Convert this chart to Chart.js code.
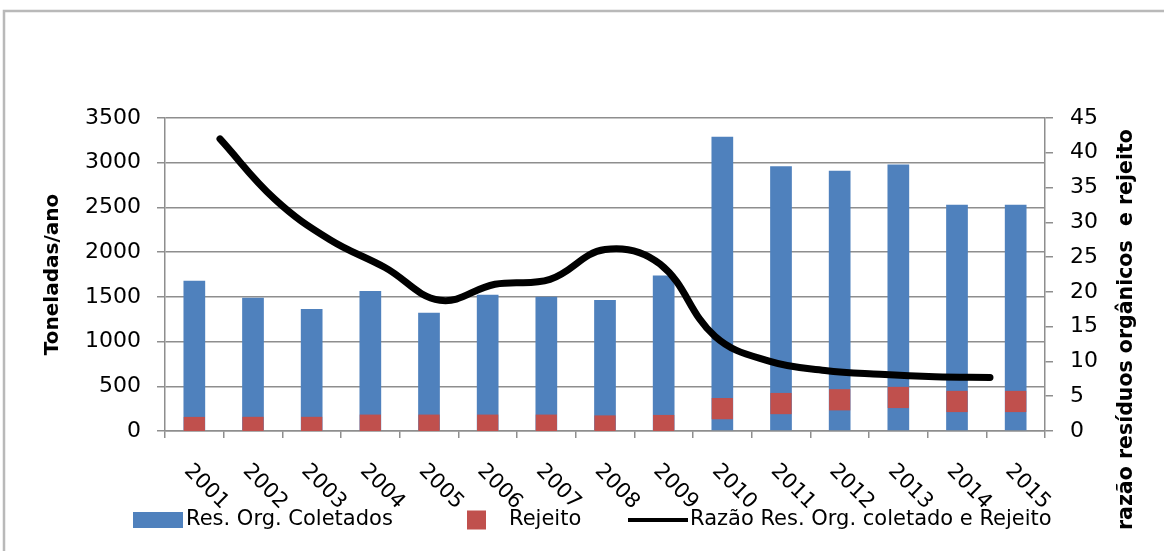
<!DOCTYPE html>
<html>
<head>
<meta charset="utf-8">
<script src="https://cdn.jsdelivr.net/npm/chart.js@4/dist/chart.umd.min.js"></script>
<style>
  html, body { margin: 0; padding: 0; background: #ffffff; }
  canvas { display: block; }
</style>
</head>
<body>
<canvas id="chart" width="1164" height="551"></canvas>
<script>
// Categories
const years = ['2001', '2002', '2003', '2004', '2005', '2006', '2007', '2008',
               '2009', '2010', '2011', '2012', '2013', '2014', '2015'];

// Collected organic waste (t/year)
const resOrgColetados = [1680, 1490, 1365, 1565, 1323, 1524, 1502, 1465,
                         1740, 3290, 2960, 2910, 2980, 2530, 2530];

// Reject (t/year)
const rejeito = [39, 40, 40, 65, 65, 65, 65, 56, 61, 250, 307, 349, 375, 330, 330];

// Ratio between collected organic waste and reject
const razao = [42, 33.3, 27.5, 23.5, 18.8, 21.1, 21.8, 26.1, 24, 13.6, 10, 8.7, 8.15, 7.8, 7.7];

// Axis ranges
const leftMax = 3500, leftStep = 500;
const rightMax = 45, rightStep = 5;

const FONT = 'DejaVu Sans';
const GRID = '#8e8e8e';
const BLUE = '#4F81BD';
const RED = '#C0504D';

Chart.defaults.font.family = FONT;
Chart.defaults.color = '#000';

const razaoPoints = razao.map((v, i) => ({ x: i, y: v }));

// White background and outer frame
const framePlugin = {
  id: 'frame',
  beforeDraw(chart) {
    const { ctx, width, height } = chart;
    ctx.save();
    ctx.fillStyle = '#ffffff';
    ctx.fillRect(0, 0, width, height);
    ctx.strokeStyle = '#b9b9b9';
    ctx.lineWidth = 2.5;
    ctx.strokeRect(4, 11, width + 50, height + 50);
    ctx.restore();
  }
};

// Slanted year labels under the category axis
const yearLabelsPlugin = {
  id: 'yearLabels',
  afterDraw(chart) {
    const sx = chart.scales.x;
    const { ctx } = chart;
    ctx.save();
    ctx.font = '21px ' + FONT;
    ctx.fillStyle = '#000';
    ctx.textAlign = 'left';
    ctx.textBaseline = 'middle';
    years.forEach((label, i) => {
      const px = sx.getPixelForTick(i) - 7;
      const py = sx.top + 37;
      ctx.save();
      ctx.translate(px, py);
      ctx.rotate(Math.PI / 4);
      ctx.fillText(label, 0, 0);
      ctx.restore();
    });
    ctx.restore();
  }
};

// Axis titles
const axisTitlesPlugin = {
  id: 'axisTitles',
  afterDraw(chart) {
    const { ctx, chartArea } = chart;
    const yl = chart.scales.y;
    const yr = chart.scales.y2;
    ctx.save();
    ctx.fillStyle = '#000';
    ctx.textBaseline = 'middle';
    ctx.font = 'bold 20px ' + FONT;
    ctx.textAlign = 'center';
    ctx.save();
    ctx.translate(yl.left + 53, (chartArea.top + chartArea.bottom) / 2);
    ctx.rotate(-Math.PI / 2);
    ctx.fillText('Toneladas/ano', 0, 0);
    ctx.restore();

    ctx.font = 'bold 20.5px ' + FONT;
    ctx.textAlign = 'left';
    ctx.save();
    ctx.translate(yr.left + 82, 530);
    ctx.rotate(-Math.PI / 2);
    ctx.fillText('razão resíduos orgânicos  e rejeito', 0, 0);
    ctx.restore();
    ctx.restore();
  }
};

// Legend row
const legendItems = [
  { label: 'Res. Org. Coletados', kind: 'box', color: BLUE, x: 133, w: 50, h: 16, tx: 186 },
  { label: 'Rejeito', kind: 'box', color: RED, x: 467, w: 19, h: 19, tx: 509 },
  { label: 'Razão Res. Org. coletado e Rejeito', kind: 'line', color: '#000', x: 628, w: 60, h: 4, tx: 690 }
];
const legendPlugin = {
  id: 'customLegend',
  afterDraw(chart) {
    const { ctx } = chart;
    const cy = chart.height - 31;
    ctx.save();
    ctx.font = '21px ' + FONT;
    ctx.textBaseline = 'middle';
    ctx.textAlign = 'left';
    legendItems.forEach(it => {
      ctx.fillStyle = it.color;
      ctx.fillRect(it.x, cy - it.h / 2, it.w, it.h);
      ctx.fillStyle = '#000';
      ctx.fillText(it.label, it.tx, cy);
    });
    ctx.restore();
  }
};

const plainNumber = v => String(v);

new Chart(document.getElementById('chart'), {
  type: 'bar',
  data: {
    labels: years,
    datasets: [
      {
        type: 'line',
        label: 'Razão Res. Org. coletado e Rejeito',
        data: razaoPoints,
        xAxisID: 'xr',
        yAxisID: 'y2',
        borderColor: '#000',
        borderWidth: 7,
        tension: 0.4,
        pointRadius: 0,
        borderCapStyle: 'round',
        borderJoinStyle: 'round',
        fill: false,
        order: 0
      },
      {
        type: 'line',
        label: 'Rejeito',
        data: rejeito,
        xAxisID: 'x',
        yAxisID: 'y',
        showLine: false,
        pointStyle: 'rect',
        pointRadius: 15,
        pointBackgroundColor: RED,
        pointBorderWidth: 0,
        order: 1
      },
      {
        type: 'bar',
        label: 'Res. Org. Coletados',
        data: resOrgColetados,
        xAxisID: 'x',
        yAxisID: 'y',
        backgroundColor: BLUE,
        grouped: false,
        categoryPercentage: 1,
        barPercentage: 0.37,
        order: 2
      }
    ]
  },
  options: {
    responsive: false,
    animation: false,
    devicePixelRatio: 1,
    layout: { padding: { top: 118, left: 0, right: 0, bottom: 0 } },
    plugins: { legend: { display: false }, tooltip: { enabled: false } },
    scales: {
      x: {
        type: 'category',
        position: 'bottom',
        offset: true,
        grid: { offset: true, drawOnChartArea: false, drawTicks: true, tickLength: 7, color: GRID, lineWidth: 1.5 },
        border: { display: true, color: GRID, width: 1.5 },
        ticks: { display: false },
        afterFit(s) { s.height = 120; }
      },
      xr: {
        type: 'linear',
        axis: 'x',
        position: 'bottom',
        offset: false,
        grid: { offset: false },
        min: -1,
        max: 15,
        display: false
      },
      y: {
        position: 'left',
        min: 0,
        max: leftMax,
        ticks: { stepSize: leftStep, font: { size: 22 }, color: '#000', padding: 16, callback: plainNumber },
        grid: { color: GRID, lineWidth: 1.5, tickLength: 8 },
        border: { color: GRID, width: 1.5 },
        afterFit(s) { s.width = 165; }
      },
      y2: {
        position: 'right',
        min: 0,
        max: rightMax,
        ticks: { stepSize: rightStep, font: { size: 22 }, color: '#000', padding: 17, callback: plainNumber },
        grid: { drawOnChartArea: false, tickLength: 8, color: GRID, lineWidth: 1.5 },
        border: { color: GRID, width: 1.5 },
        afterFit(s) { s.width = 119; }
      }
    }
  },
  plugins: [framePlugin, yearLabelsPlugin, axisTitlesPlugin, legendPlugin]
});
</script>
</body>
</html>
